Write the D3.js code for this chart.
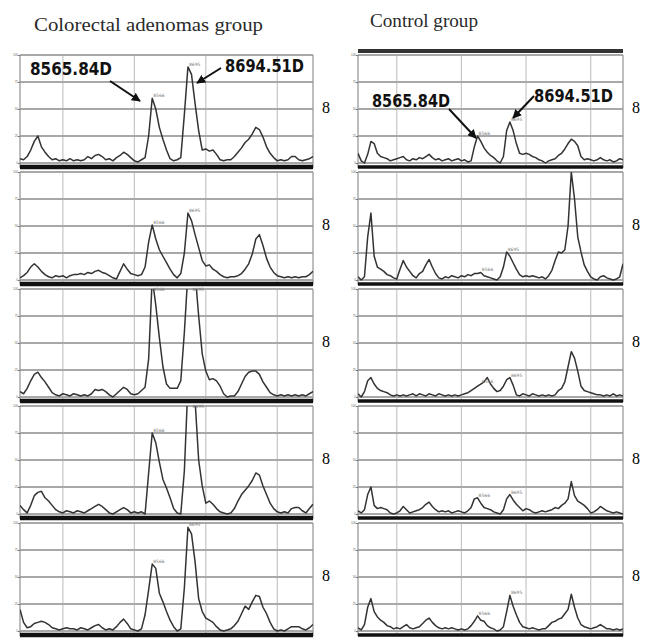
<!DOCTYPE html>
<html>
<head>
<meta charset="utf-8">
<script src="https://cdn.jsdelivr.net/npm/d3@7"></script>
<style>
  html, body { margin: 0; padding: 0; background: #ffffff; }
  svg { display: block; }
</style>
</head>
<body>
<svg id="chart" width="648" height="644"></svg>
<script>
// ---------------- DATA ----------------
const groupTitles = ["Colorectal adenomas group", "Control group"];
const sideLabel = "8";
const peakMasses = [8565.84, 8694.51];
const peakLabels = ["8565.84D", "8694.51D"];
const peakTinyLabels = ["8566", "8695"];
const gridMasses = [8250, 8500, 8750, 9000];
const yTicks = [0, 25, 50, 75, 100];
const massDomain = [8100, 9125];

const masses = [
  8100, 8112.5, 8125, 8137.5, 8150, 8162.5, 8175, 8187.5, 8200, 8212.5,
  8225, 8237.5, 8250, 8262.5, 8275, 8287.5, 8300, 8312.5, 8325, 8337.5,
  8350, 8362.5, 8375, 8387.5, 8400, 8412.5, 8425, 8437.5, 8450, 8462.5,
  8475, 8487.5, 8500, 8512.5, 8525, 8537.5, 8550, 8562.5, 8575, 8587.5,
  8600, 8612.5, 8625, 8637.5, 8650, 8662.5, 8675, 8687.5, 8700, 8712.5,
  8725, 8737.5, 8750, 8762.5, 8775, 8787.5, 8800, 8812.5, 8825, 8837.5,
  8850, 8862.5, 8875, 8887.5, 8900, 8912.5, 8925, 8937.5, 8950, 8962.5,
  8975, 8987.5, 9000, 9012.5, 9025, 9037.5, 9050, 9062.5, 9075, 9087.5,
  9100, 9112.5, 9125
];

// Colorectal adenomas group (relative intensity, %)
const adenoma1 = [
  4, 3, 6, 12, 20, 25, 15, 10, 6, 3,
  4, 2, 3, 2, 4, 2, 3, 2, 3, 6,
  4, 7, 8, 6, 3, 4, 2, 5, 7, 10,
  8, 5, 2, 1, 3, 5, 25, 60, 50, 33,
  22, 12, 4, 2, 3, 5, 45, 89, 82, 55,
  30, 12, 13, 11, 12, 8, 3, 2, 3, 3,
  6, 10, 14, 19, 22, 27, 33, 31, 24, 15,
  9, 5, 2, 3, 2, 3, 6, 6, 3, 2,
  3, 4, 6
];
const adenoma2 = [
  2, 4, 7, 12, 15, 12, 8, 5, 3, 2,
  4, 3, 4, 2, 4, 5, 5, 6, 5, 7,
  6, 8, 9, 7, 6, 4, 2, 1, 8, 15,
  10, 6, 5, 4, 5, 12, 35, 51, 38, 28,
  22, 16, 10, 5, 2, 6, 25, 62, 55, 42,
  30, 18, 13, 14, 10, 8, 5, 3, 2, 3,
  3, 4, 6, 10, 15, 24, 38, 42, 32, 20,
  12, 7, 4, 3, 2, 3, 2, 3, 2, 3,
  3, 5, 8
];
const adenoma3 = [
  5, 3, 8, 15, 21, 23, 18, 14, 9, 4,
  2, 1, 3, 2, 1, 3, 2, 1, 2, 1,
  3, 7, 6, 7, 5, 2, 0, 3, 6, 9,
  7, 3, 2, 3, 6, 9, 35, 110, 85, 55,
  28, 12, 8, 8, 8, 15, 60, 115, 135, 115,
  75, 40, 24, 16, 17, 15, 10, 3, 0, 1,
  1, 5, 12, 19, 23, 24, 24, 21, 14, 9,
  4, 2, 1, 2, 1, 2, 1, 2, 1, 2,
  1, 3, 5
];
const adenoma4 = [
  8, 4, 1, 8, 17, 20, 21, 15, 12, 8,
  4, 2, 1, 3, 2, 1, 3, 2, 1, 3,
  5, 7, 9, 7, 4, 1, 0, 2, 4, 6,
  4, 1, 2, 1, 2, 0, 38, 75, 66, 48,
  32, 24, 15, 5, 1, 0, 40, 120, 125, 105,
  50, 26, 10, 12, 9, 5, 2, 1, 0, 1,
  5, 12, 18, 22, 26, 31, 38, 36, 26, 18,
  10, 5, 2, 1, 2, 1, 5, 6, 6, 3,
  1, 5, 9
];
const adenoma5 = [
  20, 8, 3, 4, 7, 8, 9, 8, 6, 3,
  2, 1, 2, 3, 2, 2, 1, 3, 2, 1,
  3, 5, 6, 3, 1, 2, 1, 4, 8, 11,
  7, 2, 1, 0, 2, 15, 38, 62, 58, 35,
  27, 18, 10, 4, 0, 2, 40, 96, 90, 64,
  30, 18, 12, 10, 8, 4, 1, 0, 1, 2,
  5, 9, 16, 23, 20, 27, 33, 32, 22, 16,
  8, 2, 0, 1, 0, 2, 4, 4, 4, 2,
  1, 3, 6
];

// Control group (relative intensity, %)
const control1 = [
  9, 2, 0, 8, 20, 18, 9, 6, 5, 4,
  2, 3, 4, 5, 6, 3, 2, 4, 3, 5,
  4, 6, 8, 5, 3, 4, 2, 3, 4, 2,
  3, 4, 2, 3, 1, 2, 15, 25, 20, 14,
  10, 7, 5, 2, 0, 6, 30, 38, 30, 18,
  9, 8, 9, 8, 6, 5, 3, 2, 0, 2,
  3, 4, 7, 9, 13, 18, 22, 20, 16, 6,
  3, 4, 3, 2, 3, 5, 3, 2, 3, 1,
  2, 4, 3
];
const control2 = [
  3, 0, 3, 40, 62, 22, 12, 10, 8, 5,
  4, 2, 1, 10, 18, 12, 8, 4, 2, 6,
  8, 14, 19, 12, 6, 2, 1, 3, 2, 4,
  3, 2, 4, 3, 5, 4, 6, 6, 7, 4,
  3, 2, 1, 0, 3, 12, 26, 22, 16, 10,
  5, 3, 4, 3, 4, 3, 2, 3, 1, 4,
  9, 18, 26, 25, 28, 50, 100, 75, 40, 26,
  14, 8, 3, 1, 0, 3, 4, 2, 1, 0,
  1, 3, 15
];
const control3 = [
  3, 0, 5, 15, 18, 12, 8, 6, 5, 4,
  2, 1, 2, 1, 2, 1, 2, 3, 1, 3,
  2, 1, 3, 2, 1, 3, 2, 1, 2, 1,
  2, 1, 2, 3, 4, 6, 8, 10, 12, 14,
  18, 12, 8, 5, 6, 10, 16, 18, 11, 2,
  1, 3, 2, 1, 3, 2, 1, 2, 1, 2,
  1, 2, 6, 8, 14, 28, 42, 36, 24, 10,
  6, 5, 4, 3, 2, 2, 1, 2, 1, 3,
  1, 2, 1
];
const control4 = [
  3, 1, 4, 18, 25, 8, 5, 6, 5, 4,
  1, 0, 1, 3, 7, 4, 1, 2, 3, 4,
  6, 9, 11, 7, 4, 2, 3, 2, 3, 1,
  2, 3, 2, 1, 3, 6, 14, 15, 10, 6,
  5, 4, 2, 1, 0, 4, 14, 18, 13, 9,
  6, 3, 5, 4, 2, 1, 2, 3, 2, 3,
  4, 6, 5, 8, 10, 14, 30, 17, 12, 10,
  8, 5, 1, 2, 4, 7, 5, 3, 2, 1,
  2, 1, 0
];
const control5 = [
  3, 1, 6, 22, 30, 18, 13, 10, 8, 5,
  4, 2, 3, 2, 4, 6, 3, 2, 3, 4,
  7, 10, 12, 8, 5, 3, 2, 3, 2, 3,
  2, 1, 2, 1, 2, 5, 9, 14, 10, 9,
  5, 3, 2, 0, 1, 4, 18, 33, 23, 15,
  8, 4, 3, 2, 3, 2, 1, 2, 2, 5,
  8, 9, 11, 12, 16, 20, 34, 22, 12, 6,
  4, 3, 2, 3, 4, 6, 4, 2, 2, 1,
  2, 1, 2
];

const adenomaSpectra = [adenoma1, adenoma2, adenoma3, adenoma4, adenoma5];
const controlSpectra = [control1, control2, control3, control4, control5];

// ---------------- LAYOUT ----------------
const svg = d3.select("#chart");
const panelPitch = 117, panelH = 108, firstTop = 55;
const columns = [
  { spectra: adenomaSpectra, x0: 20, x1: 313, labelX: 326, titleX: 34, titleY: 31, titleLen: 229, bandTop: false, baseW: 4.5,
    annot: [
      { text: 0, tx: 30, ty: 75, len: 82, from: [110, 81], to: [140, 101] },
      { text: 1, tx: 225, ty: 72, len: 79, from: [221, 68], to: [197, 83] }
    ] },
  { spectra: controlSpectra, x0: 358, x1: 623, labelX: 636, titleX: 370, titleY: 27, titleLen: 108, bandTop: true, baseW: 3.5,
    annot: [
      { text: 0, tx: 372, ty: 107, len: 78, from: [449, 109], to: [476, 138] },
      { text: 1, tx: 534, ty: 102, len: 79, from: [534, 96], to: [513, 118] }
    ] }
];

const defs = svg.append("defs");
defs.append("marker")
  .attr("id", "arrowhead")
  .attr("viewBox", "0 0 10 10")
  .attr("refX", 9).attr("refY", 5)
  .attr("markerWidth", 4.5).attr("markerHeight", 4.5)
  .attr("orient", "auto")
  .append("path").attr("d", "M0,0 L10,5 L0,10 Z").attr("fill", "#111");

columns.forEach((col, ci) => {
  const x = d3.scaleLinear().domain(massDomain).range([col.x0, col.x1]);

  // group title
  svg.append("text")
    .attr("x", col.titleX).attr("y", col.titleY)
    .attr("font-family", "'Liberation Serif', 'DejaVu Serif', serif")
    .attr("font-size", 18)
    .attr("fill", "#2a2a2a")
    .attr("textLength", col.titleLen)
    .attr("lengthAdjust", "spacingAndGlyphs")
    .text(groupTitles[ci]);

  if (col.bandTop) {
    svg.append("line")
      .attr("x1", col.x0).attr("x2", col.x1)
      .attr("y1", firstTop - 4).attr("y2", firstTop - 4)
      .attr("stroke", "#333").attr("stroke-width", 4);
  }

  col.spectra.forEach((vals, pi) => {
    const top = firstTop + pi * panelPitch;
    const base = top + panelH;
    const y = d3.scaleLinear().domain([0, 100]).range([base, top]);
    const g = svg.append("g");

    const clipId = `clip-${ci}-${pi}`;
    defs.append("clipPath").attr("id", clipId)
      .append("rect")
      .attr("x", col.x0).attr("y", top)
      .attr("width", col.x1 - col.x0).attr("height", panelH + 4);

    // vertical grid
    g.selectAll(".vg").data(gridMasses).enter().append("line")
      .attr("x1", d => x(d)).attr("x2", d => x(d))
      .attr("y1", top).attr("y2", base + 3)
      .attr("stroke", "#c6c6c6").attr("stroke-width", 1.2);

    // horizontal grid
    g.selectAll(".hg").data(yTicks).enter().append("line")
      .attr("x1", col.x0).attr("x2", col.x1)
      .attr("y1", d => y(d)).attr("y2", d => y(d))
      .attr("stroke", "#a8a8a8").attr("stroke-width", 2);

    // frame sides
    [col.x0, col.x1].forEach(xx => {
      g.append("line")
        .attr("x1", xx).attr("x2", xx)
        .attr("y1", top).attr("y2", base + 5)
        .attr("stroke", "#9a9a9a").attr("stroke-width", 1.3);
    });

    // tiny axis marks
    const ax = d3.axisLeft(y).tickValues(yTicks).tickSize(2).tickFormat(d3.format("d"));
    const axg = g.append("g").attr("transform", `translate(${col.x0},0)`).call(ax);
    axg.select(".domain").remove();
    axg.selectAll("text").attr("font-size", 3).attr("fill", "#666").attr("x", -2);
    axg.selectAll("line").attr("stroke", "#777");

    // spectrum trace
    const line = d3.line()
      .x((d, i) => x(masses[i]))
      .y(d => y(d));
    g.append("path")
      .datum(vals)
      .attr("clip-path", `url(#${clipId})`)
      .attr("fill", "none")
      .attr("stroke", "#333")
      .attr("stroke-width", 1.5)
      .attr("stroke-linejoin", "round")
      .attr("d", line);

    // tiny peak labels
    peakMasses.forEach((pm, k) => {
      let bi = 0, bv = -1;
      masses.forEach((m, i) => {
        if (Math.abs(m - pm) <= 20 && vals[i] > bv) { bv = vals[i]; bi = i; }
      });
      g.append("text")
        .attr("x", x(masses[bi]) + 1)
        .attr("y", y(Math.min(bv, 97)) - 1)
        .attr("font-family", "'DejaVu Sans', sans-serif")
        .attr("font-size", 4.5)
        .attr("fill", "#777")
        .text(peakTinyLabels[k]);
    });

    // thick baseline
    g.append("line")
      .attr("x1", col.x0).attr("x2", col.x1)
      .attr("y1", base + 4).attr("y2", base + 4)
      .attr("stroke", "#111").attr("stroke-width", col.baseW);

    // side label
    svg.append("text")
      .attr("x", col.labelX).attr("y", top + 58)
      .attr("text-anchor", "middle")
      .attr("font-family", "'Liberation Serif', 'DejaVu Serif', serif")
      .attr("font-size", 16)
      .attr("fill", "#000")
      .text(sideLabel);
  });

  // annotations on first panel
  col.annot.forEach(a => {
    svg.append("text")
      .attr("x", a.tx).attr("y", a.ty)
      .attr("font-family", "'DejaVu Sans Condensed', 'DejaVu Sans', sans-serif")
      .attr("font-weight", "bold")
      .attr("font-size", 17)
      .attr("fill", "#111")
      .attr("textLength", a.len)
      .attr("lengthAdjust", "spacingAndGlyphs")
      .text(peakLabels[a.text]);
    svg.append("line")
      .attr("x1", a.from[0]).attr("y1", a.from[1])
      .attr("x2", a.to[0]).attr("y2", a.to[1])
      .attr("stroke", "#111").attr("stroke-width", 2)
      .attr("marker-end", "url(#arrowhead)");
  });
});
</script>
</body>
</html>
